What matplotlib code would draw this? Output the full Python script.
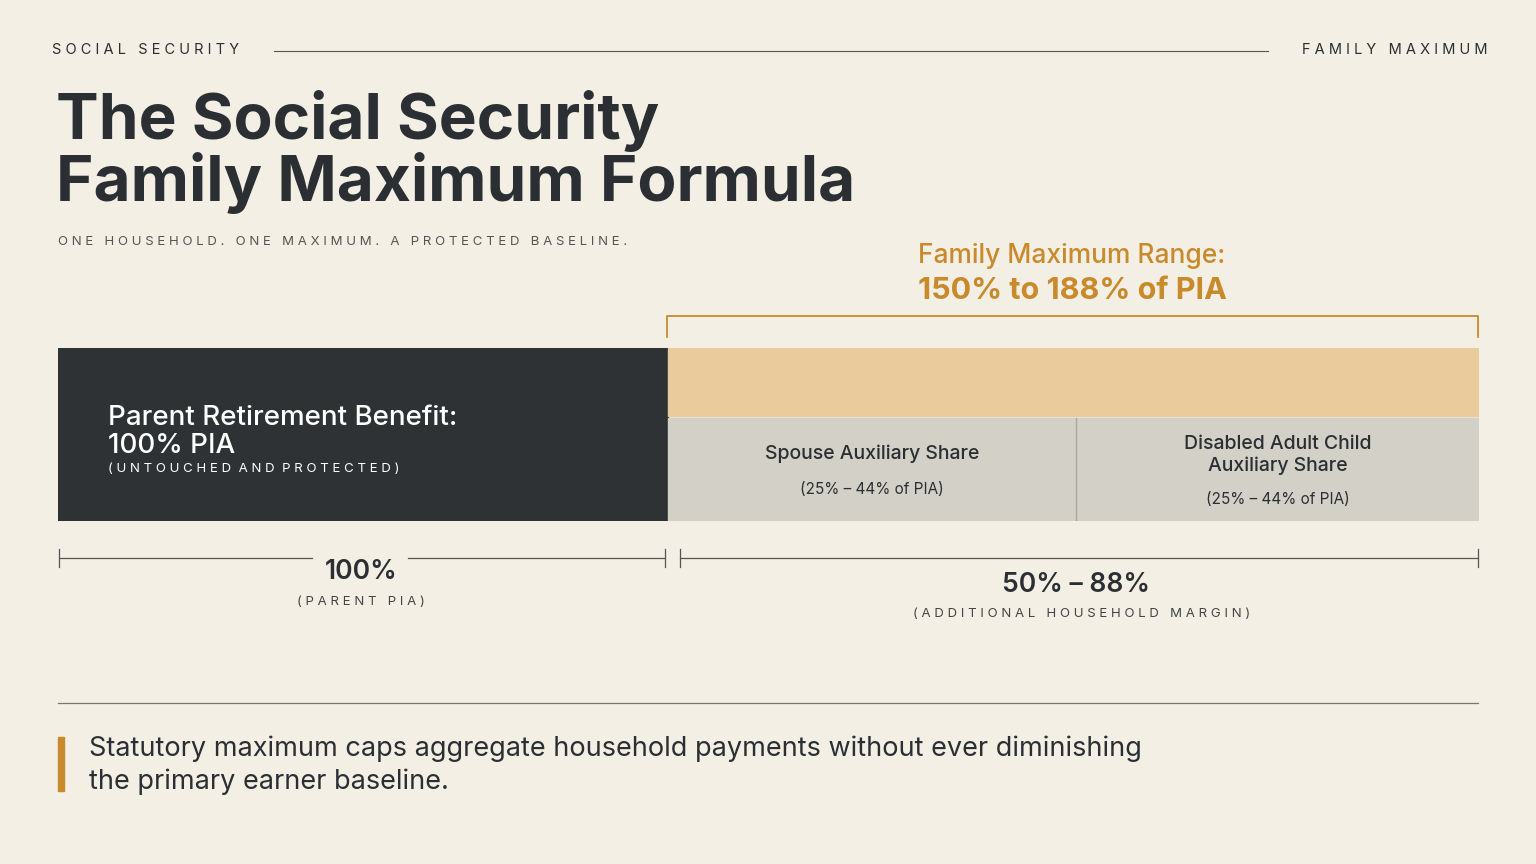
import matplotlib
matplotlib.use("Agg")
import matplotlib.pyplot as plt
from matplotlib.patches import Rectangle

segments = ["Parent", "Spouse", "Child"]
seg_widths = [100, 67, 66]
top_label = ["Family Maximum Range:", "150% to 188% of PIA"]
seg_titles = ["Parent Retirement Benefit:\n100% PIA", "Spouse Auxiliary Share", "Disabled Adult Child\nAuxiliary Share"]
seg_notes = ["(UNTOUCHED AND PROTECTED)", "(25% – 44% of PIA)", "(25% – 44% of PIA)"]
span_vals = ["100%", "50% – 88%"]
span_notes = ["(PARENT PIA)", "(ADDITIONAL HOUSEHOLD MARGIN)"]

BG = "#F3EFE5"; DARK = "#2E3234"; ORANGE = "#C98A2B"; LORANGE = "#EACB9B"; GREY = "#D3D0C8"; TXT = "#2B2F33"
F = "Inter"
fig = plt.figure(figsize=(15.36, 8.64), dpi=100, facecolor=BG)
bg = fig.add_axes([0, 0, 1, 1]); bg.set_xlim(0, 1536); bg.set_ylim(864, 0); bg.axis("off")

def sp(s): return " ".join(s) if False else s
bg.text(52, 50, "S O C I A L   S E C U R I T Y", fontsize=10.5, color=TXT, va="center", family=F)
bg.plot([274, 1268], [51, 51], color="#555", lw=0.8)
bg.text(1488, 50, "F A M I L Y   M A X I M U M", fontsize=10.5, color=TXT, va="center", ha="right", family=F)
bg.text(56, 152, "The Social Security\nFamily Maximum Formula", fontsize=46, weight="bold", color=TXT, va="center", family=F, linespacing=1.0)
bg.text(58, 242, "O N E   H O U S E H O L D .   O N E   M A X I M U M .   A   P R O T E C T E D   B A S E L I N E .", fontsize=9.5, color="#555", va="center", family=F)
bg.text(1072, 256, top_label[0], fontsize=19, color=ORANGE, ha="center", va="center", family=F, weight="medium")
bg.text(1072, 291, top_label[1], fontsize=22, color=ORANGE, ha="center", va="center", family=F, weight="bold")

ax = fig.add_axes([58/1536, 1-521/864, 1421/1536, 173/864]); ax.axis("off")
tot = sum(seg_widths)
ax.set_xlim(0, tot); ax.set_ylim(173, 0)
ax.add_patch(Rectangle((0, 0), seg_widths[0], 173, color=DARK))
ax.add_patch(Rectangle((seg_widths[0], 0), tot - seg_widths[0], 68, color=LORANGE))
x = seg_widths[0]
for i in (1, 2):
    ax.add_patch(Rectangle((x, 70), seg_widths[i], 103, color=GREY))
    if i == 1:
        ax.plot([x + seg_widths[i]] * 2, [70, 173], color="#A9A69F", lw=1)
    x += seg_widths[i]
ax.text(8.2, 84, seg_titles[0], fontsize=20, color="white", va="center", family=F, weight="medium", linespacing=1.1)
ax.text(8.2, 121, " ".join(seg_notes[0]).replace("   ", "  "), fontsize=9.5, color="white", va="center", family=F)
cx = seg_widths[0] + seg_widths[1] / 2
ax.text(cx, 106, seg_titles[1], fontsize=14, color=TXT, ha="center", va="center", family=F, weight="medium")
ax.text(cx, 141, seg_notes[1], fontsize=11, color=TXT, ha="center", va="center", family=F)
cx = seg_widths[0] + seg_widths[1] + seg_widths[2] / 2
ax.text(cx, 107, seg_titles[2], fontsize=14, color=TXT, ha="center", va="center", family=F, weight="medium", linespacing=1.3)
ax.text(cx, 151, seg_notes[2], fontsize=11, color=TXT, ha="center", va="center", family=F)

# bracket on top
bg.plot([667, 667, 1478, 1478], [337, 316, 316, 337], color=ORANGE, lw=1.3)
# spans
def span(x0, x1, y, gap=None):
    if gap:
        bg.plot([x0, gap[0]], [y, y], color="#555", lw=0.9); bg.plot([gap[1], x1], [y, y], color="#555", lw=0.9)
    else:
        bg.plot([x0, x1], [y, y], color="#555", lw=0.9)
    bg.plot([x0, x0], [y-9, y+9], color="#555", lw=0.9); bg.plot([x1, x1], [y-9, y+9], color="#555", lw=0.9)
span(59, 665, 558, gap=(312, 408))
span(680, 1478, 558)
bg.text(361, 572, span_vals[0], fontsize=19, color=TXT, ha="center", va="center", family=F, weight="semibold")
bg.text(361, 602, " ".join(span_notes[0]), fontsize=9.5, color="#444", ha="center", va="center", family=F)
bg.text(1076, 585, span_vals[1], fontsize=19, color=TXT, ha="center", va="center", family=F, weight="semibold")
bg.text(1082, 614, " ".join(span_notes[1]), fontsize=9.5, color="#444", ha="center", va="center", family=F)

bg.plot([58, 1478], [703, 703], color="#777", lw=0.9)
bg.add_patch(Rectangle((58, 737), 6, 54, color=ORANGE))
bg.text(89, 765, "Statutory maximum caps aggregate household payments without ever diminishing\nthe primary earner baseline.",
        fontsize=19.5, color=TXT, va="center", family=F, linespacing=1.3)
fig.savefig("out.png", dpi=100, facecolor=BG)
